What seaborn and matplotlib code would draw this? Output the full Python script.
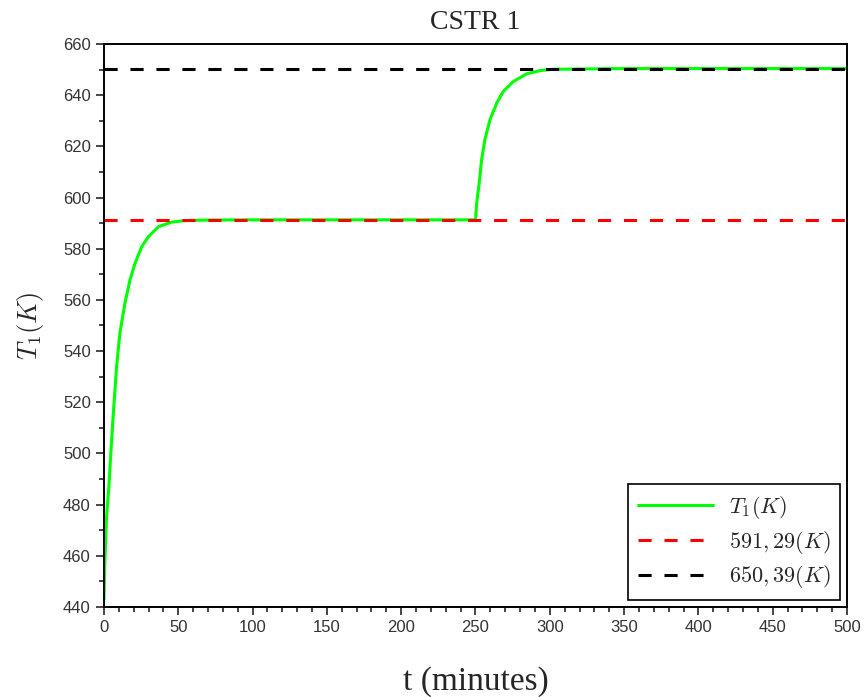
import seaborn as sns
import matplotlib.pyplot as plt
import pandas as pd

# temperature response (t in minutes, T1 in K)
t_min = [0, 0.5, 1.7, 3.3, 4.6, 6.3, 8.5, 10.7, 14.1, 17.5, 20.9, 25.4, 29.9, 36.6,
         45.6, 54.6, 70, 100, 150, 200, 250,
         250.8, 252.5, 254.1, 256.3, 259.7, 264.2, 268.6, 275.4, 284.3, 293.3, 302,
         350, 400, 450, 500]
T1 = [443, 455.7, 475, 487, 500, 515.7, 534, 547, 558.7, 567.8, 574.3, 580.8, 584.7, 588.6,
      590.4, 591.0, 591.2, 591.29, 591.29, 591.29, 591.29,
      597.8, 605.6, 614.7, 622.5, 630.3, 636.8, 641.4, 645.3, 648.3, 649.6, 650.1,
      650.39, 650.39, 650.39, 650.39]

ref_t = [0, 500]
ref_1 = [591.29, 591.29]
ref_2 = [650.39, 650.39]

labels = [r'$T_1(K)$', r'$591,29(K)$', r'$650,39(K)$']

df = pd.DataFrame({'t': t_min, 'T1': T1})

sns.set_style("ticks")
plt.rcParams['mathtext.fontset'] = 'cm'
plt.rcParams['font.family'] = ['Liberation Sans', 'DejaVu Sans']

fig = plt.figure(figsize=(8.65, 6.97), dpi=100)
ax = fig.add_axes([0.1202, 0.1291, 0.8590, 0.8078])

dash = (0, (4.3, 4.2))
sns.lineplot(data=df, x='t', y='T1', color='#00ff00', lw=2.2, label=labels[0], ax=ax)
sns.lineplot(x=ref_t, y=ref_1, color='#ff0000', lw=2.2, linestyle=dash, label=labels[1], ax=ax)
sns.lineplot(x=ref_t, y=ref_2, color='black', lw=2.2, linestyle=dash, label=labels[2], ax=ax)

ax.set_xlim(0, 500)
ax.set_ylim(440, 660)
ax.set_xticks(range(0, 501, 50))
ax.set_xticks(range(0, 501, 10), minor=True)
ax.set_yticks(range(440, 661, 20))
ax.set_yticks(range(440, 661, 10), minor=True)
ax.tick_params(which='major', length=6, width=1.2, labelsize=12, labelcolor='#333333',
               direction='out')
ax.tick_params(which='minor', length=3.5, width=1.2, direction='out')
for s in ax.spines.values():
    s.set_visible(True)
    s.set_color('black')
    s.set_linewidth(1.4)

ax.set_title('CSTR 1', fontsize=20, family='Liberation Serif', pad=11)
ax.set_xlabel('t (minutes)', fontsize=24, family='Liberation Serif', labelpad=22)
ax.set_ylabel(r'$T_1(K)$', fontsize=19, labelpad=12)

leg = ax.legend(loc='lower right', fontsize=16, handlelength=3.4, labelspacing=0.35,
                handletextpad=0.7, borderaxespad=0.3, fancybox=False, framealpha=1,
                borderpad=0.45)
leg.get_frame().set_edgecolor('black')
leg.get_frame().set_linewidth(1.2)

plt.savefig('out.png', dpi=100)
plt.close('all')
